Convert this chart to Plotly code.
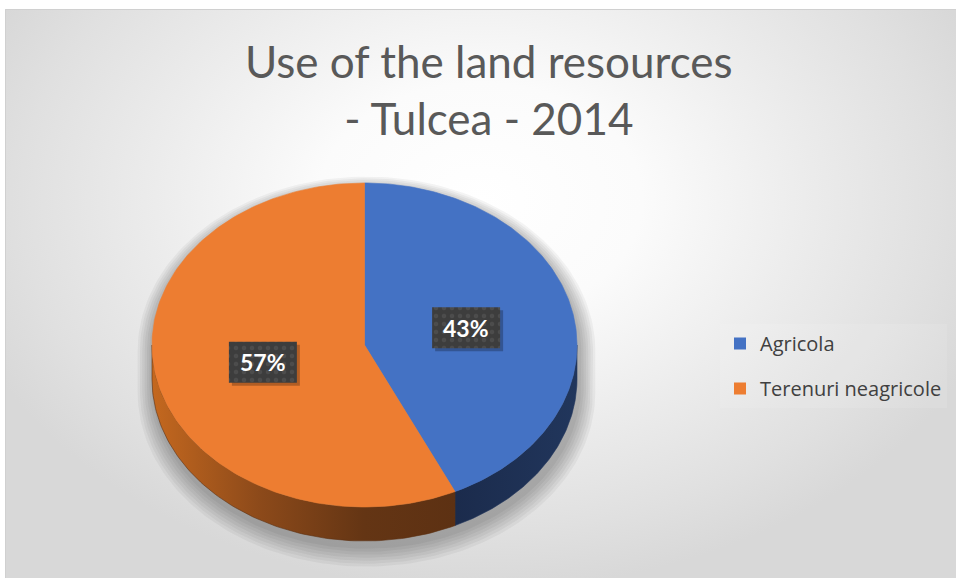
import numpy as np
import plotly.graph_objects as go

# ---------------- data ----------------
categories = ["Agricola", "Terenuri neagricole"]
values = [43, 57]
label_texts = ["43%", "57%"]
top_colors = ["#4472C4", "#ED7D31"]
side_scales = [
    [[0, "#1b2b4c"], [1, "#21365c"]],
    [[0, "#c4681f"], [0.35, "#8d4a1a"], [0.7, "#643514"], [1, "#5d3113"]],
]
title_text = "Use of the land resources<br>- Tulcea - 2014"

# ---------------- geometry / style ----------------
W, H = 956, 578
cx, cy, rx, ry, depth = 364.5, 345.0, 212.5, 162.0, 34.0
FONT = "Lato"


def ell(theta_deg, dy=0.0, s=1.0, ox=0.0):
    t = np.radians(theta_deg)
    return cx + ox + rx * s * np.sin(t), cy + dy - ry * s * np.cos(t)


fig = go.Figure()

# background panel with radial gradient (centre of brightness near the upper middle)
bx = [-60, 1020, 1020, -60, -60]
by = [-190, -190, 590, 590, -190]
fig.add_trace(go.Scatter(
    x=bx, y=by, mode="lines", fill="toself",
    line=dict(color="rgba(0,0,0,0)", width=0),
    fillgradient=dict(type="radial",
                      colorscale=[[0, "#ffffff"], [0.3, "#fbfbfb"], [0.6, "#ececec"],
                                  [0.85, "#e0e0e0"], [1, "#d8d8d8"]]),
    hoverinfo="skip", showlegend=False))

# soft shadow of the pie body
for k in range(7):
    s = 1.0 + 0.011 * (k + 1)
    th_top = np.linspace(-90, 90, 120)
    th_bot = np.linspace(90, 270, 120)
    xt, yt = ell(th_top, dy=6, s=s, ox=2)
    xb, yb = ell(th_bot, dy=depth + 6 + k * 1.2, s=s, ox=2)
    fig.add_trace(go.Scatter(
        x=np.concatenate([xt, xb, xt[:1]]), y=np.concatenate([yt, yb, yt[:1]]),
        mode="lines", fill="toself", line=dict(width=0),
        fillcolor="rgba(0,0,0,0.045)", hoverinfo="skip", showlegend=False))

total = float(sum(values))
fracs = [v / total for v in values]
bounds = np.concatenate([[0], np.cumsum(fracs)]) * 360.0

# side walls (visible front part: 90..270 deg clockwise from top)
for i in range(len(values)):
    lo = max(bounds[i], 90.0)
    hi = min(bounds[i + 1], 270.0)
    if hi <= lo:
        continue
    th = np.linspace(lo, hi, 100)
    xt, yt = ell(th)
    xb, yb = ell(th[::-1], dy=depth)
    xs = np.concatenate([xt, xb, xt[:1]])
    ys = np.concatenate([yt, yb, yt[:1]])
    fig.add_trace(go.Scatter(
        x=xs, y=ys, mode="lines", fill="toself",
        line=dict(width=0.6, color=side_scales[i][-1][1]),
        fillgradient=dict(type="horizontal", colorscale=side_scales[i]),
        hoverinfo="skip", showlegend=False))

# top face sectors
for i in range(len(values)):
    th = np.linspace(bounds[i], bounds[i + 1], 200)
    xa, ya = ell(th)
    xs = np.concatenate([[cx], xa, [cx]])
    ys = np.concatenate([[cy], ya, [cy]])
    fig.add_trace(go.Scatter(
        x=xs, y=ys, mode="lines", fill="toself",
        line=dict(width=0.6, color=top_colors[i]), fillcolor=top_colors[i],
        name=categories[i], hoverinfo="skip", showlegend=False))

# legend entries
for i in range(len(values)):
    fig.add_trace(go.Scatter(
        x=[None], y=[None], mode="markers",
        marker=dict(symbol="square", size=12, color=top_colors[i]),
        name=categories[i], legendgroup=categories[i], showlegend=True))

# data labels with dark patterned boxes
bw, bh = 68, 41
for i in range(len(values)):
    mid = (bounds[i] + bounds[i + 1]) / 2.0
    lx, ly = ell(mid, s=0.49)
    fig.add_trace(go.Scatter(
        x=[lx - bw / 2 + 3, lx + bw / 2 + 3, lx + bw / 2 + 3, lx - bw / 2 + 3, lx - bw / 2 + 3],
        y=[ly - bh / 2 + 3, ly - bh / 2 + 3, ly + bh / 2 + 3, ly + bh / 2 + 3, ly - bh / 2 + 3],
        mode="lines", fill="toself", line=dict(width=0),
        fillcolor="rgba(0,0,0,0.25)", hoverinfo="skip", showlegend=False))
    fig.add_trace(go.Scatter(
        x=[lx - bw / 2, lx + bw / 2, lx + bw / 2, lx - bw / 2, lx - bw / 2],
        y=[ly - bh / 2, ly - bh / 2, ly + bh / 2, ly + bh / 2, ly - bh / 2],
        mode="lines", fill="toself", line=dict(width=0),
        fillcolor="#3d3d3d",
        fillpattern=dict(shape=".", bgcolor="#3d3d3d", fgcolor="#5c5c5c",
                         size=8, solidity=0.25),
        hoverinfo="skip", showlegend=False))
    fig.add_annotation(x=lx, y=ly, xref="x", yref="y", text=f"<b>{label_texts[i]}</b>",
                       showarrow=False, font=dict(family=FONT, size=23, color="white"))

# title
fig.add_annotation(x=489, y=33, xref="x", yref="y", xanchor="center", yanchor="top",
                   text=title_text, showarrow=False, align="center",
                   font=dict(family=FONT, size=44, color="#595959"))

# white strip above the chart panel and panel border
fig.add_shape(type="rect", x0=-5, x1=W + 5, y0=-5, y1=9, xref="x", yref="y",
              line=dict(width=0), fillcolor="white", layer="above")
fig.add_shape(type="rect", x0=-5, x1=5, y0=-5, y1=H + 5, xref="x", yref="y",
              line=dict(width=0), fillcolor="white", layer="above")
fig.add_shape(type="rect", x0=5.5, x1=W + 5, y0=9.5, y1=H + 5, xref="x", yref="y",
              line=dict(width=1, color="#d0d0d0"), fillcolor="rgba(0,0,0,0)", layer="above")

fig.update_layout(
    width=W, height=H,
    margin=dict(l=0, r=0, t=0, b=0),
    paper_bgcolor="white", plot_bgcolor="white",
    xaxis=dict(range=[0, W], visible=False, fixedrange=True),
    yaxis=dict(range=[H, 0], visible=False, fixedrange=True),
    legend=dict(x=720 / W, y=1 - 324 / H, xanchor="left", yanchor="top",
                bgcolor="rgba(255,255,255,0.1)",
                font=dict(family="Open Sans", size=20, color="#404040"),
                traceorder="grouped", tracegroupgap=16, itemclick=False),
    showlegend=True,
)

fig.write_html("out.html", config={"displayModeBar": False},
               post_script="document.body.style.margin='0px';document.body.style.overflow='hidden';")
